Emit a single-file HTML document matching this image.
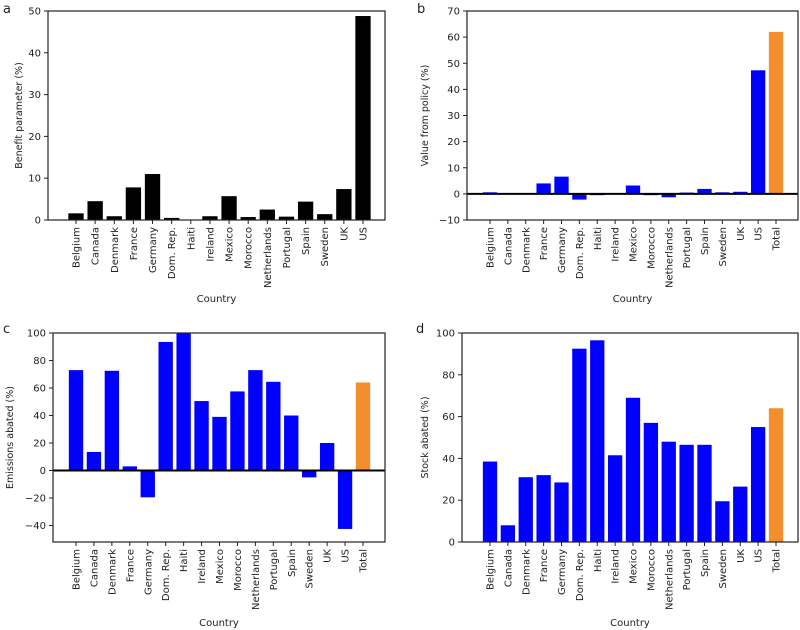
<!DOCTYPE html>
<html><head><meta charset="utf-8"><style>
html,body{margin:0;padding:0;background:#fff;width:800px;height:630px;overflow:hidden}
svg text{font-family:"DejaVu Sans","Liberation Sans",sans-serif;fill:#222}
</style></head><body>
<svg id="chart" width="800" height="630" xmlns="http://www.w3.org/2000/svg"></svg>
<script>
const countries=["Belgium","Canada","Denmark","France","Germany","Dom. Rep.","Haiti","Ireland","Mexico","Morocco","Netherlands","Portugal","Spain","Sweden","UK","US"];
const categoriesTotal=countries.concat(["Total"]);
const benefitValues=[1.6,4.5,0.9,7.8,11,0.5,0.1,0.9,5.7,0.7,2.5,0.8,4.4,1.4,7.4,48.8];
const policyValues=[0.6,0.2,0.3,4.0,6.6,-2.2,-0.5,0.2,3.2,-0.5,-1.3,0.5,1.9,0.6,0.8,47.3,62];
const emissionsValues=[73,13.5,72.5,3,-19.5,93.5,100,50.5,39,57.5,73,64.5,40,-5,20,-42.5,64];
const stockValues=[38.5,8,31,32,28.5,92.5,96.5,41.5,69,57,48,46.5,46.5,19.5,26.5,55,64];
const ticksA=[0,10,20,30,40,50];
const ticksB=[-10,0,10,20,30,40,50,60,70];
const ticksC=[-40,-20,0,20,40,60,80,100];
const ticksD=[0,20,40,60,80,100];

const svg=document.getElementById('chart');
const NS="http://www.w3.org/2000/svg";
function mk(tag,attrs,parent){const e=document.createElementNS(NS,tag);for(const k in attrs)e.setAttribute(k,attrs[k]);(parent||svg).appendChild(e);return e;}

function panel(p){
  const g=mk('g',{});
  
  
  const n=p.cats.length;
  const x=i=>p.c0+(p.c1-p.c0)*i/(n-1);
  const y=v=>p.bottom-(v-p.ymin)/(p.ymax-p.ymin)*(p.bottom-p.top);
  const step=(p.c1-p.c0)/(n-1), bw=step*0.8;
  p.vals.forEach((v,i)=>{
    const y0=y(0),yv=y(v);
    const isTotal=p.cats[i]==="Total";
    const r=mk('rect',{x:x(i)-bw/2,y:Math.min(y0,yv),width:bw,height:Math.abs(yv-y0),fill:isTotal?'#f28e2b':p.color},g);
    
    
  });
  if(p.zeroLine){const l=mk('line',{x1:p.left,x2:p.right,y1:y(0),y2:y(0),stroke:'#000','stroke-width':2},g);
    }
  const fr=mk('rect',{x:p.left,y:p.top,width:p.right-p.left,height:p.bottom-p.top,fill:'none',stroke:'#222','stroke-width':1.2},g);
  
  p.ticks.forEach(t=>{
    mk('line',{x1:p.left-4,x2:p.left,y1:y(t),y2:y(t),stroke:'#222','stroke-width':1},g);
    const tx=mk('text',{x:p.left-7,y:y(t)+3.5,'text-anchor':'end','font-size':10},g);
    tx.textContent=t<0?'\u2212'+Math.abs(t):String(t);
    
  });
  p.cats.forEach((c,i)=>{
    mk('line',{x1:x(i),x2:x(i),y1:p.bottom,y2:p.bottom+4,stroke:'#222','stroke-width':1},g);
    const tx=mk('text',{transform:`translate(${x(i)+3.5},${p.bottom+7}) rotate(-90)`,'text-anchor':'end','font-size':10},g);
    tx.textContent=c;
    
  });
  const yt=mk('text',{transform:`translate(${p.ylx},${(p.top+p.bottom)/2}) rotate(-90)`,'text-anchor':'middle','font-size':9.5},g);
  yt.textContent=p.ylabel;
  const xt=mk('text',{x:(p.left+p.right)/2,y:p.xty,'text-anchor':'middle','font-size':10},g);
  xt.textContent='Country';
  const pl=mk('text',{x:p.lx,y:p.ly,'font-size':13},g);
  pl.textContent=p.id;
}
panel({id:'a',cats:countries,vals:benefitValues,ticks:ticksA,ymin:0,ymax:50,left:48,right:385,top:11,bottom:220,c0:76,c1:363,color:'#000',zeroLine:false,ylabel:'Benefit parameter (%)',ylx:22,xty:302,lx:3,ly:13});
panel({id:'b',cats:categoriesTotal,vals:policyValues,ticks:ticksB,ymin:-10,ymax:70,left:467,right:798,top:11,bottom:220,c0:490,c1:776,color:'#0000ff',zeroLine:true,ylabel:'Value from policy (%)',ylx:428,xty:302,lx:417,ly:13});
panel({id:'c',cats:categoriesTotal,vals:emissionsValues,ticks:ticksC,ymin:-52,ymax:100,left:53,right:385,top:333,bottom:542,c0:76,c1:363,color:'#0000ff',zeroLine:true,ylabel:'Emissions abated (%)',ylx:13,xty:626,lx:3,ly:333});
panel({id:'d',cats:categoriesTotal,vals:stockValues,ticks:ticksD,ymin:0,ymax:100,left:462,right:798,top:333,bottom:542,c0:490,c1:776,color:'#0000ff',zeroLine:false,ylabel:'Stock abated (%)',ylx:428,xty:626,lx:416,ly:333});
</script>
</body></html>
